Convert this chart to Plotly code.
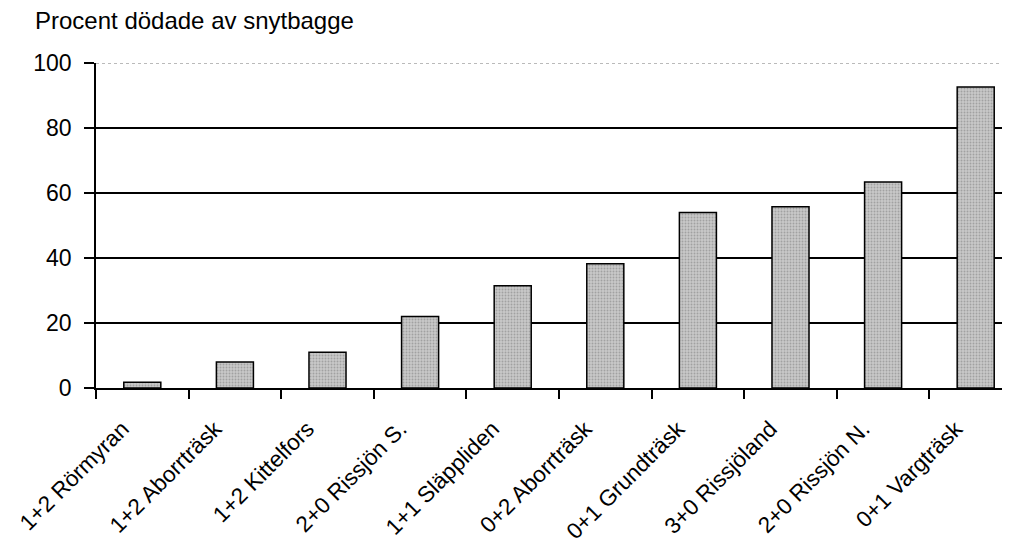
import plotly.graph_objects as go

categories = ["1+2 Rörmyran", "1+2 Aborrträsk", "1+2 Kittelfors", "2+0 Rissjön S.",
              "1+1 Släppliden", "0+2 Aborrträsk", "0+1 Grundträsk", "3+0 Rissjöland",
              "2+0 Rissjön N.", "0+1 Vargträsk"]
values = [1.8, 8, 11, 22, 31.5, 38.2, 54, 55.8, 63.4, 92.6]
y_ticks = [0, 20, 40, 60, 80, 100]
title_text = "Procent dödade av snytbagge"

FONT = "Liberation Sans, Arial, sans-serif"
L, T, PH = 88, 55, 325
W, H = 1010, 548
PW = W - L

fig = go.Figure()
fig.add_trace(go.Bar(
    x=categories, y=values, width=0.4,
    marker=dict(
        color="#bdbdbd",
        line=dict(color="black", width=1.5),
        pattern=dict(shape=".", fgcolor="#7a7a7a", bgcolor="#c8c8c8", size=3, solidity=0.3),
    ),
    showlegend=False,
))

fig.update_layout(
    width=W, height=H,
    margin=dict(l=L, r=0, t=T, b=H - T - PH),
    plot_bgcolor="white", paper_bgcolor="white",
    font=dict(family=FONT, size=23, color="black"),
    annotations=[dict(
        text=title_text, x=(33 - 96) / PW, y=1 + (63 - 21) / PH,
        xref="paper", yref="paper",
        showarrow=False, xanchor="left", yanchor="middle",
        font=dict(family=FONT, size=24, color="black"),
    )],
)

fig.update_xaxes(
    type="category", range=[-0.5, -0.5 + PW / 92.6], automargin=False,
    tickson="boundaries", ticks="outside", ticklen=9, tickwidth=1.5, tickcolor="black",
    tickangle=-45, showline=True, linecolor="black", linewidth=1.5,
    showgrid=False, ticklabelstandoff=17, ticklabelshift=-20,
    tickfont=dict(family=FONT, size=22.5, color="black"),
)
fig.update_yaxes(
    range=[0, 100], tickvals=y_ticks, automargin=False,
    ticks="outside", ticklen=10, tickwidth=1.5, tickcolor="black",
    showline=True, linecolor="black", linewidth=1.5,
    showgrid=True, gridcolor="black", gridwidth=1.5, zeroline=False,
    ticklabelstandoff=8, tickfont=dict(family=FONT, size=23, color="black"),
)
# top gridline is a light dotted line in the reference
fig.add_shape(type="line", xref="paper", yref="y", x0=0, x1=1, y0=y_ticks[-1], y1=y_ticks[-1],
              line=dict(color="white", width=3), layer="above")
fig.add_shape(type="line", xref="paper", yref="y", x0=0, x1=1, y0=y_ticks[-1], y1=y_ticks[-1],
              line=dict(color="#777777", width=1.2, dash="dot"), layer="above")

fig.write_html("out.html")
